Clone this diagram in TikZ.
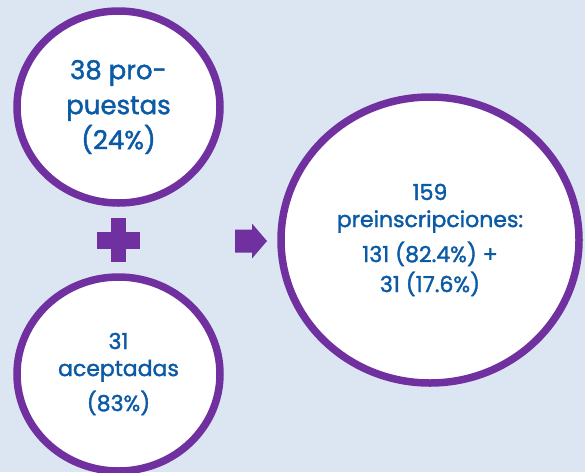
\documentclass[tikz,border=0pt]{standalone}
\usepackage{fontspec}
\setmainfont{Poppins}[FakeBold=1.6]
\usetikzlibrary{shapes.geometric}
\usepackage{xcolor}
\definecolor{fondo}{HTML}{DCE6F2}
\definecolor{morado}{HTML}{7030A0}
\definecolor{azul}{HTML}{0B5AA5}

\begin{document}
\begin{tikzpicture}[x=1pt, y=-1pt,
  burbuja/.style={ellipse, draw=morado, line width=7.5pt, fill=white,
    inner sep=0pt, text=azul, align=center}]
  \fill[fondo] (0,0) rectangle (585,472);
  \useasboundingbox (0,0) rectangle (585,472);

  % Left: propuestas + aceptadas (vertical)
  \node[burbuja, minimum width=203pt, minimum height=192pt,
    font=\fontsize{26}{35}\selectfont] (propuestas) at (118.5,107)
    {38 pro-\\puestas\\(24\%)};
  \node[burbuja, minimum width=203pt, minimum height=194pt,
    font=\fontsize{22}{27}\selectfont] (aceptadas) at (118.5,374)
    {31\\aceptadas\\[8pt](83\%)};

  \coordinate (mas) at (118.5,240);
  \fill[morado] (mas) ++(-7.5,-22) rectangle ++(15,44);
  \fill[morado] (mas) ++(-21.5,-8.5) rectangle ++(43,17);

  % Right: total
  \node[burbuja, minimum width=298pt, minimum height=286pt,
    font=\fontsize{22}{27}\selectfont] (preinscripciones) at (430,240)
    {159\\preinscripciones:\\[8pt]131 (82.4\%) +\\[3pt]31 (17.6\%)};

  \coordinate (flecha) at (235,241);
  \fill[morado] (flecha) ++(0,-11.5) -- ++(17,0) -- ++(0,-6) -- ++(15,17.5)
    -- ++(-15,17.5) -- ++(0,-6) -- ++(-17,0) -- cycle;
\end{tikzpicture}
\end{document}
